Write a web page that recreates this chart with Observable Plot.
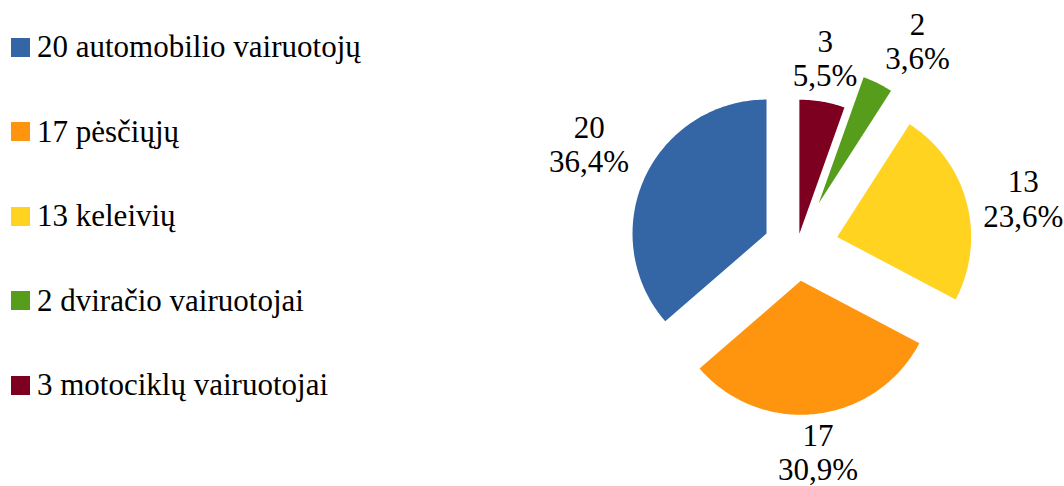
<!DOCTYPE html>
<html><head><meta charset="utf-8">
<script src="https://cdn.jsdelivr.net/npm/d3@7"></script>
<script src="https://cdn.jsdelivr.net/npm/@observablehq/plot@0.6"></script>
<style>
body{margin:0;background:#fff;}
#wrap{position:relative;width:1064px;height:486px;overflow:hidden;}
#chart{position:absolute;left:0;top:0;}
#legend{position:absolute;left:0;top:4.75px;font-family:'Liberation Serif',serif;font-size:31px;color:#000;}
.row{display:flex;align-items:center;height:84.5px;white-space:nowrap;}
.sw{width:19px;height:19px;margin-left:11px;margin-right:7px;flex:none;}
</style></head><body>
<div id="wrap"><div id="chart"></div><div id="legend"></div></div>
<script>
// ---- data ----
const categories = ["automobilio vairuotojų", "pėsčiųjų", "keleivių", "dviračio vairuotojai", "motociklų vairuotojai"];
const values = [20, 17, 13, 2, 3];
const colors = ["#3465a4", "#ff950e", "#ffd320", "#579d1c", "#7e0021"];

// ---- layout / style settings ----
const W = 1064, H = 486;
const center = [796.5, 247];
const radius = 134;
const explodeBy = {"automobilio vairuotojų": 33.5, "pėsčiųjų": 33.5, "keleivių": 41.5, "dviračio vairuotojai": 49, "motociklų vairuotojai": 14};
const fontSize = 31, lineHeight = 1.1;
const labelGap = 17, labelHalfH = 27;
const font = "'Liberation Serif', serif";

// ---- legend ----
const legend = document.getElementById("legend");
categories.forEach((c, i) => {
  const row = document.createElement("div");
  row.className = "row";
  const sw = document.createElement("span");
  sw.className = "sw";
  sw.style.background = colors[i];
  const tx = document.createElement("span");
  tx.textContent = `${values[i]} ${c}`;
  row.append(sw, tx);
  legend.append(row);
});

// ---- pie geometry (clockwise from 12 o'clock, last category first) ----
const total = d3.sum(values);
const rad = a => a * Math.PI / 180;
const ctx = document.createElement("canvas").getContext("2d");
ctx.font = `${fontSize}px ${font}`;
const pct = v => (v / total * 100).toFixed(1).replace(".", ",") + "%";
const maxY = H - fontSize * (lineHeight / 2 + 0.32 + 0.23);

let acc = 0;
const polys = [], labels = [];
for (let i = values.length - 1; i >= 0; i--) {
  const name = categories[i];
  const a0 = acc / total * 360;
  acc += values[i];
  const a1 = acc / total * 360;
  const mid = (a0 + a1) / 2;
  const dx = Math.sin(rad(mid)), dy = -Math.cos(rad(mid));
  const ex = explodeBy[name];
  const ax = center[0] + dx * ex, ay = center[1] + dy * ex;
  polys.push({name, x: ax, y: ay});
  const steps = Math.max(2, Math.ceil(a1 - a0));
  for (let s = 0; s <= steps; s++) {
    const a = rad(a0 + (a1 - a0) * s / steps);
    polys.push({name, x: ax + radius * Math.sin(a), y: ay - radius * Math.cos(a)});
  }
  const text = `${values[i]}\n${pct(values[i])}`;
  const w = Math.max(...text.split("\n").map(t => ctx.measureText(t).width));
  const px = ax + dx * (radius + labelGap), py = ay + dy * (radius + labelGap);
  const k = Math.round(mid / 45) % 8;
  const [sx, sy] = [[0,-1],[1,-1],[1,0],[1,1],[0,1],[-1,1],[-1,0],[-1,-1]][k];
  labels.push({name, text, x: px + sx * w / 2, y: Math.min(maxY, py + sy * labelHalfH)});
}

const chart = Plot.plot({
  width: W, height: H,
  margin: 0,
  x: {domain: [0, W], range: [0, W], axis: null},
  y: {domain: [0, H], range: [0, H], axis: null},
  color: {domain: categories, range: colors},
  style: {background: "#fff"},
  marks: [
    Plot.line(polys, {x: "x", y: "y", z: "name", fill: "name", stroke: null, curve: "linear-closed"}),
    Plot.text(labels, {x: "x", y: "y", text: "text", fontFamily: font, fontSize, fill: "#000", textAnchor: "middle", lineAnchor: "middle", lineHeight})
  ]
});
document.getElementById("chart").append(chart);
</script>
</body></html>
